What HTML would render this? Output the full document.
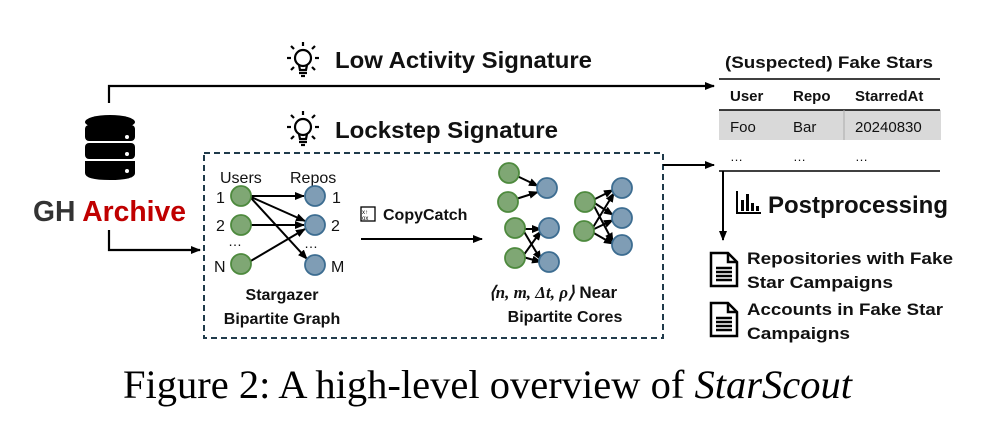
<!DOCTYPE html>
<html><head><meta charset="utf-8"><style>
html,body{margin:0;padding:0;background:#fff;}
svg{display:block;}
.b{font-family:"Liberation Sans",sans-serif;font-weight:bold;fill:#111;}
.n{font-family:"Liberation Sans",sans-serif;fill:#111;}
</style></head><body>
<svg width="994" height="432" viewBox="0 0 994 432" xmlns="http://www.w3.org/2000/svg">
<defs>
<marker id="ah" markerWidth="10" markerHeight="8" refX="9" refY="4" orient="auto" markerUnits="userSpaceOnUse">
<path d="M0,0 L10,4 L0,8 z" fill="#000"/></marker>
<g id="bulb" fill="none" stroke="#000" stroke-width="2.2">
<circle cx="0" cy="0" r="8"/>
<path d="M-4,7 L-3,12 L3,12 L4,7"/>
<line x1="-4" y1="15" x2="4" y2="15"/>
<line x1="-2" y1="18" x2="2" y2="18"/>
<line x1="0" y1="-12" x2="0" y2="-16"/>
<line x1="-12" y1="0" x2="-16" y2="0"/>
<line x1="12" y1="0" x2="16" y2="0"/>
<line x1="-9" y1="-9" x2="-12" y2="-12"/>
<line x1="9" y1="-9" x2="12" y2="-12"/>
<line x1="-9" y1="9" x2="-12" y2="12"/>
<line x1="9" y1="9" x2="12" y2="12"/>
</g>
<g id="doc" fill="none" stroke="#000" stroke-width="2.5">
<path d="M1,1 L18,1 L27,10 L27,34 L1,34 z"/>
<path d="M18,1 L18,10 L27,10"/>
<line x1="6" y1="16" x2="22" y2="16"/><line x1="6" y1="20" x2="22" y2="20"/>
<line x1="6" y1="24" x2="22" y2="24"/><line x1="6" y1="28" x2="22" y2="28"/>
</g>
</defs>

<use href="#bulb" x="303" y="58"/>
<text class="b" x="335" y="68" font-size="23.5" textLength="257" lengthAdjust="spacingAndGlyphs">Low Activity Signature</text>
<use href="#bulb" x="303" y="127"/>
<text class="b" x="335" y="138" font-size="23.5" textLength="223" lengthAdjust="spacingAndGlyphs">Lockstep Signature</text>

<g fill="#000">
<ellipse cx="110" cy="122" rx="25" ry="7"/>
<rect x="85" y="125" width="50" height="16" rx="4"/>
<rect x="85" y="143" width="50" height="16" rx="4"/>
<path d="M85,161 h50 v12 q0,7 -25,7 q-25,0 -25,-7 z"/>
<circle cx="127" cy="137" r="2" fill="#fff"/>
<circle cx="127" cy="154" r="2" fill="#fff"/>
<circle cx="127" cy="171" r="2" fill="#fff"/>
</g>
<text class="b" x="33" y="221" font-size="29" textLength="153" lengthAdjust="spacingAndGlyphs"><tspan fill="#333">GH </tspan><tspan fill="#c00000">Archive</tspan></text>

<path d="M109,103 V86 H714" fill="none" stroke="#000" stroke-width="2.2" marker-end="url(#ah)"/>
<path d="M109,230 V250 H200" fill="none" stroke="#000" stroke-width="2.2" marker-end="url(#ah)"/>

<rect x="204" y="153" width="459" height="185" fill="none" stroke="#1f3a4a" stroke-width="2" stroke-dasharray="6,4"/>

<text class="n" x="220" y="183" font-size="16">Users</text>
<text class="n" x="290" y="183" font-size="16">Repos</text>
<text class="n" x="216" y="203" font-size="16">1</text>
<text class="n" x="216" y="231" font-size="16">2</text>
<text class="n" x="228" y="246" font-size="14">…</text>
<text class="n" x="214" y="272" font-size="16">N</text>
<text class="n" x="332" y="203" font-size="16">1</text>
<text class="n" x="331" y="231" font-size="16">2</text>
<text class="n" x="304" y="248" font-size="14">…</text>
<text class="n" x="331" y="272" font-size="16">M</text>
<g stroke="#000" stroke-width="2" marker-end="url(#ah)">
<line x1="251" y1="196" x2="304" y2="196"/>
<line x1="251" y1="197" x2="305" y2="221"/>
<line x1="251" y1="198" x2="307" y2="259"/>
<line x1="251" y1="225" x2="304" y2="225"/>
<line x1="249" y1="262" x2="305" y2="229"/>
</g>
<g stroke-width="1.8">
<circle cx="241" cy="196" r="10" fill="#7fa774" stroke="#4e8a3e"/>
<circle cx="241" cy="225" r="10" fill="#7fa774" stroke="#4e8a3e"/>
<circle cx="241" cy="264" r="10" fill="#7fa774" stroke="#4e8a3e"/>
<circle cx="315" cy="196" r="10" fill="#7f9db5" stroke="#3d6d91"/>
<circle cx="315" cy="225" r="10" fill="#7f9db5" stroke="#3d6d91"/>
<circle cx="315" cy="265" r="10" fill="#7f9db5" stroke="#3d6d91"/>
</g>
<text class="b" x="282" y="300" font-size="16" text-anchor="middle">Stargazer</text>
<text class="b" x="282" y="324" font-size="16" text-anchor="middle">Bipartite Graph</text>

<rect x="361" y="207" width="14" height="14" fill="none" stroke="#000" stroke-width="1.3"/>
<text x="362" y="214" font-size="6" font-family="Liberation Sans,sans-serif">x↑</text>
<text x="362" y="220" font-size="6" font-family="Liberation Sans,sans-serif">ox</text>
<text class="b" x="383" y="220" font-size="16">CopyCatch</text>
<line x1="361" y1="239" x2="482" y2="239" stroke="#000" stroke-width="2" marker-end="url(#ah)"/>

<g stroke="#000" stroke-width="2" marker-end="url(#ah)">
<line x1="517" y1="176" x2="538" y2="186"/>
<line x1="516" y1="199" x2="538" y2="192"/>
<line x1="523" y1="229" x2="541" y2="229"/>
<line x1="523" y1="230" x2="541" y2="260"/>
<line x1="523" y1="257" x2="541" y2="262"/>
<line x1="523" y1="256" x2="541" y2="231"/>
<line x1="593" y1="200" x2="613" y2="190"/>
<line x1="593" y1="202" x2="613" y2="215"/>
<line x1="593" y1="204" x2="613" y2="242"/>
<line x1="592" y1="229" x2="614" y2="193"/>
<line x1="592" y1="230" x2="613" y2="220"/>
<line x1="592" y1="232" x2="613" y2="244"/>
</g>
<g stroke-width="1.8">
<circle cx="509" cy="173" r="10" fill="#7fa774" stroke="#4e8a3e"/>
<circle cx="508" cy="202" r="10" fill="#7fa774" stroke="#4e8a3e"/>
<circle cx="515" cy="228" r="10" fill="#7fa774" stroke="#4e8a3e"/>
<circle cx="515" cy="258" r="10" fill="#7fa774" stroke="#4e8a3e"/>
<circle cx="585" cy="202" r="10" fill="#7fa774" stroke="#4e8a3e"/>
<circle cx="584" cy="231" r="10" fill="#7fa774" stroke="#4e8a3e"/>
<circle cx="547" cy="188" r="10" fill="#7f9db5" stroke="#3d6d91"/>
<circle cx="549" cy="228" r="10" fill="#7f9db5" stroke="#3d6d91"/>
<circle cx="549" cy="262" r="10" fill="#7f9db5" stroke="#3d6d91"/>
<circle cx="622" cy="188" r="10" fill="#7f9db5" stroke="#3d6d91"/>
<circle cx="622" cy="218" r="10" fill="#7f9db5" stroke="#3d6d91"/>
<circle cx="622" cy="245" r="10" fill="#7f9db5" stroke="#3d6d91"/>
</g>
<text x="489" y="298" font-size="17" font-family="Liberation Serif,serif" font-weight="bold" font-style="italic" fill="#111">⟨n, m, Δt, ρ⟩<tspan font-family="Liberation Sans,sans-serif" font-style="normal"> Near</tspan></text>
<text class="b" x="565" y="322" font-size="16" text-anchor="middle">Bipartite Cores</text>

<path d="M663,165 H714" fill="none" stroke="#000" stroke-width="2" marker-end="url(#ah)"/>

<text class="b" x="725" y="68" font-size="17" textLength="208" lengthAdjust="spacingAndGlyphs">(Suspected) Fake Stars</text>
<line x1="719" y1="79" x2="940" y2="79" stroke="#000" stroke-width="1.5"/>
<text class="b" x="730" y="101" font-size="15">User</text>
<text class="b" x="793" y="101" font-size="15">Repo</text>
<text class="b" x="855" y="101" font-size="15">StarredAt</text>
<rect x="719" y="110" width="222" height="30" fill="#d9d9d9"/>
<line x1="719" y1="110" x2="940" y2="110" stroke="#000" stroke-width="1.5"/>
<line x1="844" y1="110" x2="844" y2="140" stroke="#aaa" stroke-width="1"/>
<text class="n" x="730" y="132" font-size="15">Foo</text>
<text class="n" x="793" y="132" font-size="15">Bar</text>
<text class="n" x="855" y="132" font-size="15">20240830</text>
<text class="n" x="730" y="161" font-size="13">…</text>
<text class="n" x="793" y="161" font-size="13">…</text>
<text class="n" x="855" y="161" font-size="13">…</text>
<line x1="719" y1="171" x2="940" y2="171" stroke="#000" stroke-width="1.5"/>

<line x1="723" y1="171" x2="723" y2="240" stroke="#000" stroke-width="2" marker-end="url(#ah)"/>
<g fill="#000">
<rect x="736" y="191" width="2" height="23"/>
<rect x="736" y="212" width="25" height="2"/>
<rect x="741" y="200" width="3" height="11"/>
<rect x="746" y="194" width="3" height="17"/>
<rect x="751" y="203" width="3" height="8"/>
<rect x="756" y="206" width="3" height="5"/>
</g>
<text class="b" x="768" y="213" font-size="24" textLength="180" lengthAdjust="spacingAndGlyphs">Postprocessing</text>

<use href="#doc" x="710" y="252"/>
<text class="b" x="747" y="264" font-size="17" textLength="206" lengthAdjust="spacingAndGlyphs">Repositories with Fake</text>
<text class="b" x="747" y="288" font-size="17" textLength="146" lengthAdjust="spacingAndGlyphs">Star Campaigns</text>
<use href="#doc" x="710" y="302"/>
<text class="b" x="747" y="315" font-size="17" textLength="196" lengthAdjust="spacingAndGlyphs">Accounts in Fake Star</text>
<text class="b" x="747" y="339" font-size="17" textLength="103" lengthAdjust="spacingAndGlyphs">Campaigns</text>

<text x="123" y="398" font-size="40" font-family="Liberation Serif,serif" fill="#000" textLength="729" lengthAdjust="spacingAndGlyphs">Figure 2: A high-level overview of <tspan font-style="italic">StarScout</tspan></text>
</svg>
</body></html>
